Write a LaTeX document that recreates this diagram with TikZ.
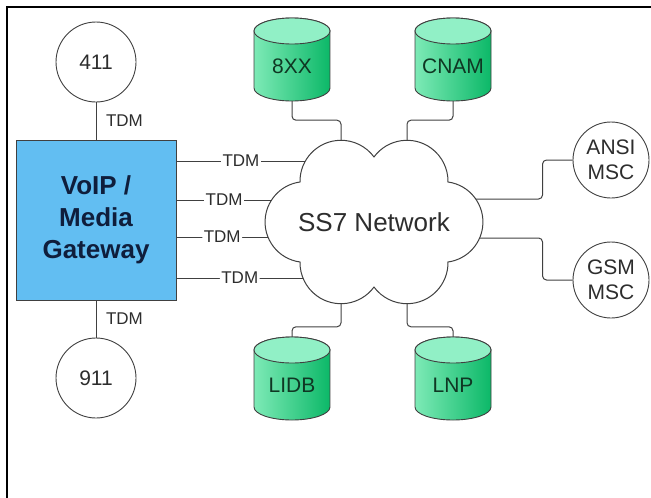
\documentclass[tikz,border=0pt]{standalone}
\usepackage{fontspec}
\setmainfont{Liberation Sans}
\usepackage{tikz}
\definecolor{linegray}{RGB}{64,64,64}
\definecolor{textgray}{RGB}{45,45,45}
\definecolor{gwblue}{RGB}{98,190,242}
\definecolor{gwtext}{RGB}{15,30,60}
\definecolor{dbtopgreen}{RGB}{145,240,198}
\definecolor{dblight}{RGB}{125,234,182}
\definecolor{dbdark}{RGB}{12,184,104}
\definecolor{dbtext}{RGB}{15,55,35}
\newcommand{\fsz}[2]{\fontsize{#1}{#2}\selectfont}
% database drum: name, centre, label
\newcommand{\dbase}[3]{%
  \begin{scope}[shift={#2}]
    \shade[left color=dblight, right color=dbdark, draw=linegray, line width=0.9pt]
      (-38,28.5) -- (-38,-28.5) arc[start angle=180, end angle=360, x radius=38, y radius=13]
      -- (38,28.5) arc[start angle=0, end angle=180, x radius=38, y radius=13] -- cycle;
    \filldraw[fill=dbtopgreen, draw=linegray, line width=0.9pt] (0,28.5) ellipse[x radius=38, y radius=13];
    \node[dbnode] (#1) at (0,0) {#3};
  \end{scope}}

\begin{document}
\begin{tikzpicture}[x=1pt, y=1pt,
    link/.style = {draw=linegray, line width=1pt, rounded corners=4pt},
    tdm/.style = {font=\fsz{17}{20}, text=textgray, inner sep=1.5pt},
    site/.style = {circle, draw=linegray, line width=0.9pt, fill=white, minimum size=80pt,
      inner sep=0pt, align=center, font=\fsz{21}{25}, text=textgray},
    gateway/.style = {rectangle, draw=linegray, line width=1pt, fill=gwblue, minimum width=160pt,
      minimum height=160pt, align=center, font=\bfseries\fsz{26}{32}, text=gwtext},
    dbnode/.style = {minimum width=76pt, minimum height=83pt, inner sep=0pt, text height=28pt,
      text depth=0pt, font=\fsz{21}{25}, text=dbtext}]
  \useasboundingbox (0,0) rectangle (651,-498);
  \draw[line width=1.2pt] (7,-498) -- (7,-7) -- (651,-7);

  % the SS7 cloud
  \draw[draw=linegray, line width=1pt, fill=white] (300,-182)
    arc[start angle=181, end angle=36.4, radius=41]
    arc[start angle=143.6, end angle=-1, radius=41]
    arc[start angle=82.3, end angle=-82.3, radius=40.36]
    arc[start angle=1, end angle=-143.6, radius=41]
    arc[start angle=-36.4, end angle=-181, radius=41]
    arc[start angle=262.3, end angle=97.7, radius=40.36] -- cycle;
  \node[font=\fsz{26}{30}, text=textgray] (ss7) at (374,-222) {SS7 Network};
  \coordinate (t1) at (305.4,-161);
  \coordinate (t2) at (271.6,-200);
  \coordinate (t3) at (267.9,-237);
  \coordinate (t4) at (303,-278);
  \coordinate (up1) at (341,-140.3);
  \coordinate (up2) at (407,-140.3);
  \coordinate (dn1) at (341,-303.7);
  \coordinate (dn2) at (407,-303.7);
  \coordinate (rt1) at (475.8,-199);
  \coordinate (rt2) at (479.7,-238);

  \node[gateway] (gw) at (96,-220) {VoIP /\\Media\\Gateway};
  \node[site] (n411) at (96,-62) {411};
  \node[site] (n911) at (96,-378) {911};
  \node[site, minimum size=76pt] (ansi) at (611,-160) {ANSI\\MSC};
  \node[site, minimum size=76pt] (gsm) at (611,-280) {GSM\\MSC};

  \dbase{x8}{(292,-59.5)}{8XX}
  \dbase{cnam}{(453,-59.5)}{CNAM}
  \dbase{lidb}{(292,-378.5)}{LIDB}
  \dbase{lnp}{(453,-378.5)}{LNP}

  \draw[link] (n411) -- node[tdm, right=8pt] {TDM} (gw);
  \draw[link] (gw) -- node[tdm, right=8pt] {TDM} (n911);
  \draw[link] (gw.east |- t1) -- node[tdm, fill=white] {TDM} (t1);
  \draw[link] (gw.east |- t2) -- node[tdm, fill=white] {TDM} (t2);
  \draw[link] (gw.east |- t3) -- node[tdm, fill=white] {TDM} (t3);
  \draw[link] (gw.east |- t4) -- node[tdm, fill=white] {TDM} (t4);

  \draw[link] (x8.south) -- ++(0,-19) -| (up1);
  \draw[link] (cnam.south) -- ++(0,-19) -| (up2);
  \draw[link] (lidb.north) -- ++(0,10) -| (dn1);
  \draw[link] (lnp.north) -- ++(0,10) -| (dn2);
  \draw[link] (ansi.west) -- ++(-30,0) |- (rt1);
  \draw[link] (gsm.west) -- ++(-30,0) |- (rt2);
\end{tikzpicture}
\end{document}
